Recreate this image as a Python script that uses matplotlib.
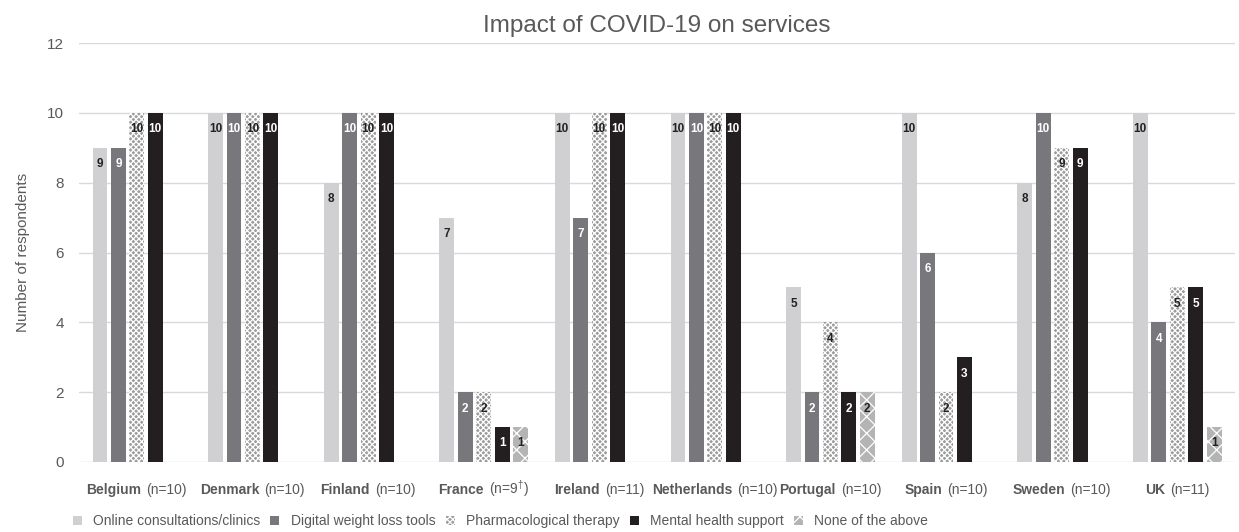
import numpy as np
import matplotlib
matplotlib.use('Agg')
import matplotlib.pyplot as plt
from matplotlib.patches import Patch

plt.rcParams['font.family'] = ['Liberation Sans', 'DejaVu Sans']
plt.rcParams['mathtext.fontset'] = 'custom'
plt.rcParams['mathtext.rm'] = 'Liberation Sans'
plt.rcParams['hatch.linewidth'] = 0.9

countries = ['Belgium', 'Denmark', 'Finland', 'France', 'Ireland',
             'Netherlands', 'Portugal', 'Spain', 'Sweden', 'UK']
sizes = ['(n=10)', '(n=10)', '(n=10)', '(n=9$^{\\dagger}$)', '(n=11)',
         '(n=10)', '(n=10)', '(n=10)', '(n=10)', '(n=11)']
series = ['Online consultations/clinics', 'Digital weight loss tools',
          'Pharmacological therapy', 'Mental health support', 'None of the above']
online = [9, 10, 8, 7, 10, 10, 5, 10, 8, 10]
digital = [9, 10, 10, 2, 7, 10, 2, 6, 10, 4]
pharma = [10, 10, 10, 2, 10, 10, 4, 2, 9, 5]
mental = [10, 10, 10, 1, 10, 10, 2, 3, 9, 5]
none_above = [0, 0, 0, 1, 0, 0, 2, 0, 0, 1]

grey_txt = '#595959'
styles = [
    dict(facecolor='#d0d0d2', edgecolor='none', hatch=None, txt='#222222'),
    dict(facecolor='#78787c', edgecolor='none', hatch=None, txt='white'),
    dict(facecolor='#9c9c9c', edgecolor='white', hatch='xxxxxx', txt='#222222'),
    dict(facecolor='#231f20', edgecolor='none', hatch=None, txt='white'),
    dict(facecolor='#b4b4b4', edgecolor='white', hatch='xx', txt='#222222'),
]

fig = plt.figure(figsize=(12.39, 5.32), dpi=100)
ax = fig.add_axes([0.0638, 0.1316, 0.933, 0.7874])

x = np.arange(len(countries))
step = 0.1595
width = 0.129
for i, (vals, st) in enumerate(zip([online, digital, pharma, mental, none_above], styles)):
    pos = x + (i - 2) * step
    ax.bar(pos, vals, width=width, color=st['facecolor'],
           edgecolor=st['edgecolor'], hatch=st['hatch'], linewidth=0, zorder=3)
    for xp, v in zip(pos, vals):
        if v > 0:
            ax.text(xp, v - 0.47, str(v), ha='center', va='center', fontsize=8.5,
                    fontweight='bold', color=st['txt'], zorder=4)

ax.set_xlim(-0.5, len(countries) - 0.5)
ax.set_ylim(0, 12)
ax.set_yticks(range(0, 13, 2))
ax.grid(axis='y', color='#d9d9d9', linewidth=1, zorder=0)
for s in ax.spines.values():
    s.set_visible(False)
ax.tick_params(axis='y', length=0, labelsize=11, labelcolor=grey_txt, pad=11)
ax.set_xticks([])
ax.set_ylabel('Number of respondents', fontsize=11, color=grey_txt, labelpad=12)
ax.set_title('Impact of COVID-19 on services', fontsize=17.5, color=grey_txt, pad=8)

# category labels: bold country name + plain sample size, centred together on one baseline
renderer = fig.canvas.get_renderer()
base_y = -32
gap = 5
for xi, name, n in zip(x, countries, sizes):
    t1 = ax.annotate(name, xy=(xi, 0), xycoords=('data', 'axes fraction'),
                     xytext=(0, base_y), textcoords='offset pixels', ha='left',
                     va='baseline', fontsize=10, fontweight='bold', color=grey_txt)
    t2 = ax.annotate(n, xy=(xi, 0), xycoords=('data', 'axes fraction'),
                     xytext=(0, base_y), textcoords='offset pixels', ha='left',
                     va='baseline', fontsize=10, color=grey_txt)
    w1 = t1.get_window_extent(renderer).width
    w2 = t2.get_window_extent(renderer).width
    left = -(w1 + gap + w2) / 2
    t1.set_position((left, base_y))
    t2.set_position((left + w1 + gap, base_y))

handles = [Patch(facecolor=st['facecolor'], edgecolor=st['edgecolor'], hatch=st['hatch'],
                 linewidth=0) for st in styles]
fig.legend(handles, series, loc='center left', bbox_to_anchor=(0.0485, 0.02), ncol=5,
           frameon=False, fontsize=10, labelcolor=grey_txt, handlelength=0.65,
           handleheight=0.65, handletextpad=0.8, columnspacing=0.75)

fig.savefig('out.png', dpi=100)
